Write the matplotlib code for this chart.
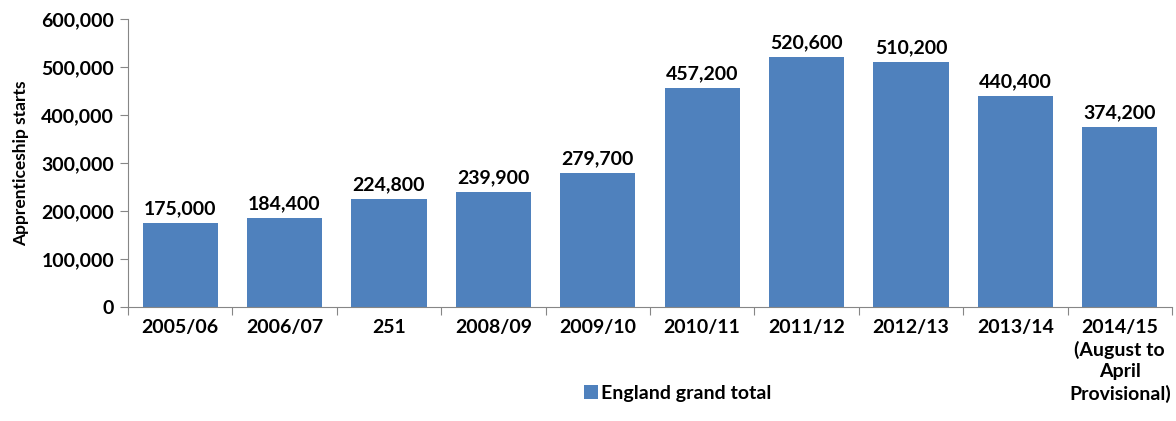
import matplotlib.pyplot as plt
import numpy as np
from matplotlib.ticker import FuncFormatter

plt.rcParams['font.family'] = ['Lato', 'DejaVu Sans']
plt.rcParams['font.weight'] = 'bold'

years = ['2005/06', '2006/07', '251', '2008/09', '2009/10', '2010/11',
         '2011/12', '2012/13', '2013/14', '2014/15\n(August to\nApril\nProvisional)']
starts = [175000, 184400, 224800, 239900, 279700, 457200, 520600, 510200, 440400, 374200]
bar_color = '#4F81BD'

fig = plt.figure(figsize=(11.76, 4.21), dpi=100)
ax = fig.add_axes([0.1088, 0.2708, 0.8878, 0.6841])

x = np.arange(len(years))
bars = ax.bar(x, starts, width=0.72, color=bar_color, label='England grand total')
for xi, v in zip(x, starts):
    ax.text(xi, v + 12000, '{:,}'.format(v), ha='center', va='bottom',
            fontsize=14, fontweight='bold')

ax.set_xlim(-0.5, len(years) - 0.5)
ax.set_ylim(0, 600000)
ax.set_yticks(np.arange(0, 600001, 100000))
ax.yaxis.set_major_formatter(FuncFormatter(lambda v, p: '{:,.0f}'.format(v)))

# category boundaries get the tick marks, labels sit on the centres
ax.set_xticks(np.arange(-0.5, len(years), 1.0))
ax.set_xticklabels([])
ax.set_xticks(x, minor=True)
ax.set_xticklabels(years, minor=True, fontsize=14, fontweight='bold', va='top',
                   linespacing=1.3)
ax.tick_params(axis='x', which='minor', length=0, pad=9)
ax.tick_params(axis='x', which='major', length=6, color='#868686', direction='out')
ax.tick_params(axis='y', length=6, color='#868686', direction='out', labelsize=14, pad=4)

for side in ['top', 'right']:
    ax.spines[side].set_visible(False)
for side in ['left', 'bottom']:
    ax.spines[side].set_color('#868686')

ax.set_ylabel('Apprenticeship starts', fontsize=12.5, fontweight='bold', labelpad=9)

ax.legend(loc='center left', bbox_to_anchor=(0.42, -0.30), frameon=False,
          fontsize=14, handlelength=0.7, handleheight=0.7, handletextpad=0.2)

fig.savefig('out.png', dpi=100)
